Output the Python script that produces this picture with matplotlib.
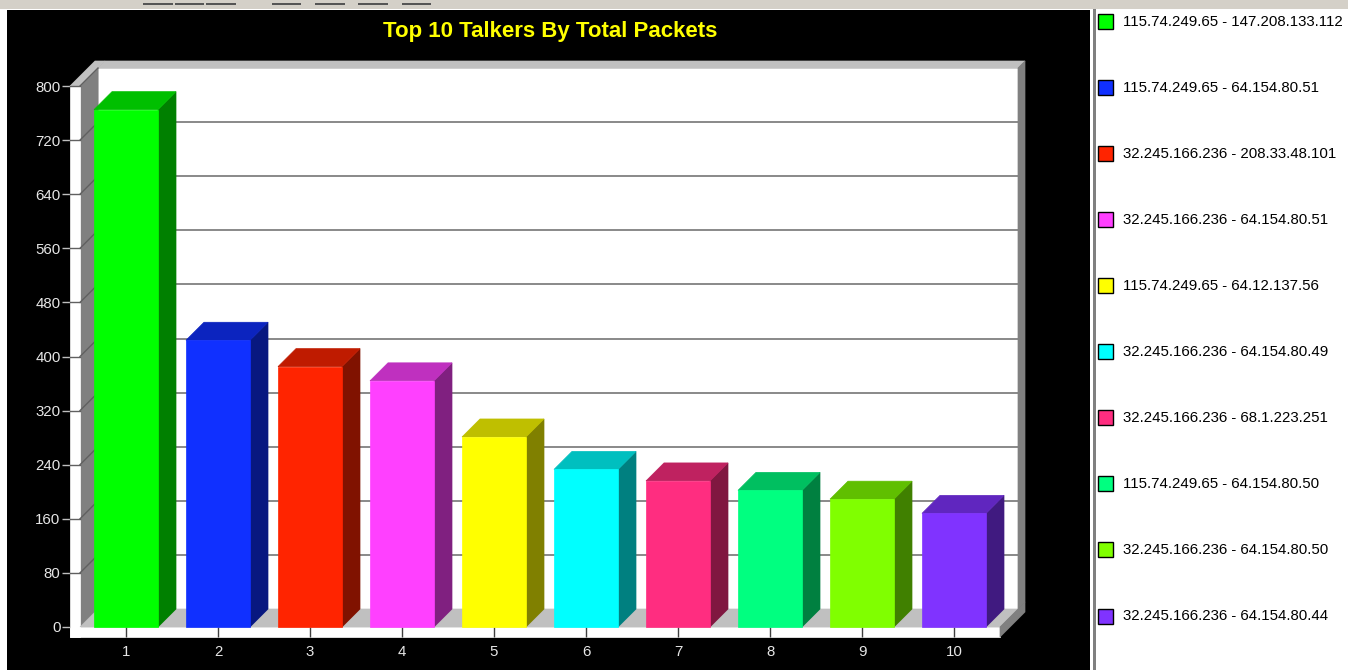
import matplotlib
matplotlib.use('Agg')
import matplotlib.pyplot as plt
from matplotlib.patches import Polygon, Rectangle
import numpy as np

plt.rcParams['font.family'] = ['Liberation Sans', 'DejaVu Sans']

# data
categories = [1, 2, 3, 4, 5, 6, 7, 8, 9, 10]
packets = [765, 424, 385, 364, 281, 233, 216, 202, 189, 168]
talkers = [
    '115.74.249.65 - 147.208.133.112',
    '115.74.249.65 - 64.154.80.51',
    '32.245.166.236 - 208.33.48.101',
    '32.245.166.236 - 64.154.80.51',
    '115.74.249.65 - 64.12.137.56',
    '32.245.166.236 - 64.154.80.49',
    '32.245.166.236 - 68.1.223.251',
    '115.74.249.65 - 64.154.80.50',
    '32.245.166.236 - 64.154.80.50',
    '32.245.166.236 - 64.154.80.44',
]
colors = ['#00ff00', '#1030ff', '#ff2400', '#ff40ff', '#ffff00',
          '#00ffff', '#ff2d80', '#00ff80', '#80ff00', '#8033ff']
yticks = list(range(0, 801, 80))

W, H = 1348, 670
DPI = 100
BG = '#000000'
WALL_DARK = '#808080'
WALL_LIGHT = '#c0c0c0'
LABEL = '#e6e6e6'

fig = plt.figure(figsize=(W / DPI, H / DPI), dpi=DPI)
fig.patch.set_facecolor('white')


def fx(px):
    return px / W


def fy(py):
    return 1 - py / H


# window chrome (background axes)
bax = fig.add_axes([0, 0, 1, 1], zorder=-5)
bax.set_xlim(0, W)
bax.set_ylim(H, 0)
bax.axis('off')
bax.add_patch(Rectangle((7, 10), 1090 - 7, H - 10, facecolor=BG, edgecolor='none'))
bax.add_patch(Rectangle((0, 0), W, 9, facecolor='#d4d0c8', edgecolor='none'))
for a, b in [(143, 175), (175, 206), (206, 238), (272, 303), (315, 347), (358, 390), (402, 433)]:
    bax.add_patch(Rectangle((a, 3), b - a - 2, 2, facecolor='#555555', edgecolor='none'))
bax.add_patch(Rectangle((1093, 9), 3, H - 9, facecolor='#808080', edgecolor='none'))

# chart axes: front plane
PX_X = 92.0            # pixels per category
PX_Y = 541.0 / 800     # pixels per packet
x0, x1 = 0.5, 10.5
TX, TY = 10 / PX_X, 10 / PX_Y          # wall edge thickness
DX, DY = 18 / PX_X, 18 / PX_Y          # depth offset
BX, BY = 7 / PX_X, 7 / PX_Y            # back wall thickness
ymax = 800

ax = fig.add_axes([fx(70), fy(637), (1000 - 70) / W, (637 - 86) / H], zorder=5)
ax.set_xlim(x0 - TX, x1)
ax.set_ylim(-TY, ymax)
ax.patch.set_visible(False)
for s in ax.spines.values():
    s.set_visible(False)


def poly(pts, color, z):
    ax.add_patch(Polygon(pts, closed=True, facecolor=color, edgecolor=color,
                         linewidth=0.5, zorder=z, clip_on=False))


# walls
poly([(x0 + DX, DY), (x1 + DX, DY), (x1 + DX, ymax + DY), (x0 + DX, ymax + DY)], 'white', 1)
poly([(x0 + DX, ymax + DY), (x1 + DX, ymax + DY), (x1 + DX + BX, ymax + DY + BY),
      (x0 + DX + BX, ymax + DY + BY)], WALL_LIGHT, 1)
poly([(x1 + DX, DY), (x1 + DX, ymax + DY), (x1 + DX + BX, ymax + DY + BY),
      (x1 + DX + BX, DY + BY)], WALL_DARK, 1)
poly([(x0, 0), (x0 + DX, DY), (x0 + DX, ymax + DY), (x0, ymax)], WALL_DARK, 1)
poly([(x0 - TX, ymax), (x0, ymax), (x0 + DX, ymax + DY), (x0 + DX + BX, ymax + DY + BY),
      (x0 - TX + DX + BX, ymax + DY + BY)], WALL_LIGHT, 1)
poly([(x0 - TX, -TY), (x0, -TY), (x0, ymax), (x0 - TX, ymax)], 'white', 1)
poly([(x0, 0), (x1, 0), (x1 + DX, DY), (x0 + DX, DY)], WALL_LIGHT, 1)
poly([(x0 - TX, -TY), (x1, -TY), (x1, 0), (x0 - TX, 0)], 'white', 1)
poly([(x1, -TY), (x1, 0), (x1 + DX + BX, DY + BY), (x1 + DX + BX, DY + BY - TY)], WALL_DARK, 1)

# grid lines on back and left walls
for v in yticks[1:-1]:
    ax.plot([x0 + DX, x1 + DX], [v + DY, v + DY], color=WALL_DARK, lw=1.3, zorder=2, clip_on=False)
for v in yticks[1:]:
    ax.plot([x0, x0 + DX], [v, v + DY], color='#606060', lw=1.0, zorder=2, clip_on=False)
    ax.plot([x0 - TX, x0], [v, v], color='#606060', lw=1.0, zorder=2, clip_on=False)

# bars
hw = 32 / PX_X
for c, v, col in zip(categories, packets, colors):
    rgb = np.array(matplotlib.colors.to_rgb(col))
    poly([(c + hw, 0), (c + hw, v), (c + hw + DX, v + DY), (c + hw + DX, DY)], tuple(rgb * 0.5), 3)
    poly([(c - hw, v), (c + hw, v), (c + hw + DX, v + DY), (c - hw + DX, v + DY)], tuple(rgb * 0.75), 3)
    poly([(c - hw, 0), (c + hw, 0), (c + hw, v), (c - hw, v)], col, 4)

ax.set_xticks(categories)
ax.set_xticklabels([str(c) for c in categories])
ax.set_yticks(yticks)
ax.set_yticklabels([str(v) for v in yticks])
ax.tick_params(axis='x', direction='in', length=7.2, width=1, color='#404040',
               labelcolor=LABEL, labelsize=10.8, pad=5.5)
ax.tick_params(axis='y', direction='out', length=5.8, width=1, color=WALL_LIGHT,
               labelcolor=LABEL, labelsize=10.8, pad=1)

fig.text(fx(550), fy(31), 'Top 10 Talkers By Total Packets', ha='center', va='center',
         fontsize=16, fontweight='bold', color='#ffff00', zorder=10)

# legend panel
lax = fig.add_axes([fx(1096), 0, (W - 1096) / W, fy(9)], zorder=5)
lax.set_xlim(0, W - 1096)
row0, step = 21.5, 66.06
lax.set_ylim((H - row0) / step, (9 - row0) / step)
lax.axis('off')
sw = 15 / step
for i, (lbl, col) in enumerate(zip(talkers, colors)):
    lax.add_patch(Rectangle((2, i - sw / 2), 15, sw, facecolor=col, edgecolor='black', lw=1))
    lax.text(27, i, lbl, ha='left', va='center', fontsize=10.8, color='black')

fig.savefig('out.png', dpi=DPI, facecolor='white')
